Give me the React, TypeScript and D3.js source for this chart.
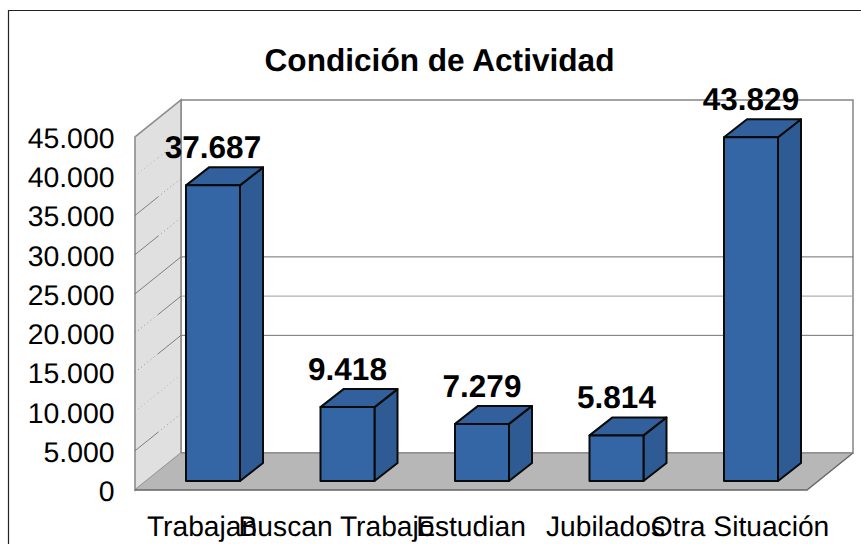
import * as d3 from "d3";

const categories = ["Trabajan", "Buscan Trabajo", "Estudian", "Jubilados", "Otra Situación"];
const values = [37687, 9418, 7279, 5814, 43829];
const yTicks = [0, 5000, 10000, 15000, 20000, 25000, 30000, 35000, 40000, 45000];
const title = "Condición de Actividad";

// gridline look per tick, [front half, back half], the original render drops parts of them
const wallGrid: Record<number, string[]> = {
  5000: ["solid", "dotted"],
  10000: ["faint", "faint"],
  15000: ["dotted", "solid"],
  20000: ["dotted", "solid"],
  25000: ["solid", "solid"],
  30000: ["solid", "dotted"],
  35000: ["solid", "dotted"],
  40000: ["faint", "faint"],
};
const backGrid = [15000, 20000, 25000];

const W = 861, H = 544;
const depthX = 46, depthY = -37;   // wall depth
const barDx = 23, barDy = -18;     // bar depth
const barW = 54;

const fmt = (v: number) => d3.format(",")(v).replace(/,/g, ".");

export default function App() {
  const y = d3.scaleLinear().domain([0, 45000]).range([490, 137]);
  const xLabel = d3.scalePoint<string>().domain(categories).range([202, 740]);
  const xBar = d3.scalePoint<string>().domain(categories).range([186, 724]);
  const yBar = (v: number) => y(v) - 9;
  const poly = d3.line();

  const x0 = 135, x1 = 807;

  return (
    <svg width={W} height={H} style={{ position: "absolute", left: 0, top: 0 }}
      fontFamily="'Liberation Sans', Arial, sans-serif" textRendering="geometricPrecision">
      <rect width={W} height={H} fill="#fff" />
      <path d="M8.5,544V10.5H861" fill="none" stroke="#222" strokeWidth={1.2} />

      <text x={439.5} y={71} textAnchor="middle" fontSize={31.6} fontWeight="bold" fill="#000">{title}</text>

      {/* back wall */}
      <rect x={x0 + depthX} y={y(45000) + depthY} width={x1 - x0} height={y(0) - y(45000)} fill="#fff" stroke="#8c8c8c" strokeWidth={1.6} />
      {backGrid.map(t => (
        <line key={t} x1={x0 + depthX} x2={x1 + depthX} y1={y(t) + depthY} y2={y(t) + depthY}
          stroke={t === 20000 ? "#b0b0b0" : "#707070"} strokeWidth={t === 20000 ? 1.2 : 1} />
      ))}

      {/* left wall */}
      <path d={poly([[x0, y(0)], [x0, y(45000)], [x0 + depthX, y(45000) + depthY], [x0 + depthX, y(0) + depthY]]) + "Z"}
        fill="#e0e0e0" stroke="#8c8c8c" strokeWidth={1.6} />
      {yTicks.filter(t => wallGrid[t]).map(t => (
        <g key={t} strokeWidth={0.8}>
          {wallGrid[t].map((kind, i) => (
            <line key={i}
              x1={x0 + depthX * i / 2} y1={y(t) + depthY * i / 2}
              x2={x0 + depthX * (i + 1) / 2} y2={y(t) + depthY * (i + 1) / 2}
              stroke={kind === "solid" ? "#666" : kind === "dotted" ? "#808080" : "#a8a8a8"}
              strokeDasharray={kind === "solid" ? undefined : "1 3"} />
          ))}
        </g>
      ))}

      {/* floor */}
      <path d={poly([[x0, y(0)], [x0 + depthX, y(0) + depthY], [x1 + depthX, y(0) + depthY], [x1, y(0)]]) + "Z"}
        fill="#b7b7b7" stroke="none" />
      <path d={poly([[x0, y(0)], [x1, y(0)], [x1 + depthX, y(0) + depthY]]) || ""} fill="none" stroke="#666" strokeWidth={1.4} />
      <line x1={x0 + depthX} x2={x1 + depthX} y1={y(0) + depthY} y2={y(0) + depthY} stroke="#808080" strokeWidth={1} />

      {/* axis labels */}
      {yTicks.map(t => (
        <text key={t} x={114.5} y={y(t) + 11} textAnchor="end" fontSize={28.4} fill="#000">{fmt(t)}</text>
      ))}
      {categories.map(c => (
        <text key={c} x={xLabel(c)} y={536} textAnchor="middle" fontSize={28.2} fill="#000">{c}</text>
      ))}

      {/* bars */}
      {categories.map((c, i) => {
        const left = xBar(c)!;
        const right = left + barW;
        const top = yBar(values[i]);
        const base = yBar(0);
        return (
          <g key={c} stroke="#0a0a0a" strokeWidth={2} strokeLinejoin="round">
            <path d={poly([[right, base], [right + barDx, base + barDy], [right + barDx, top + barDy], [right, top]]) + "Z"} fill="#2e5b93" />
            <path d={poly([[left, top], [left + barDx, top + barDy], [right + barDx, top + barDy], [right, top]]) + "Z"} fill="#31609c" />
            <rect x={left} y={top} width={barW} height={base - top} fill="#3465a4" />
          </g>
        );
      })}

      {/* data labels */}
      {categories.map((c, i) => (
        <text key={c} x={xBar(c)! + barW / 2} y={yBar(values[i]) - 27} textAnchor="middle" fontSize={31.5} fontWeight="bold" fill="#000">{fmt(values[i])}</text>
      ))}
    </svg>
  );
}
